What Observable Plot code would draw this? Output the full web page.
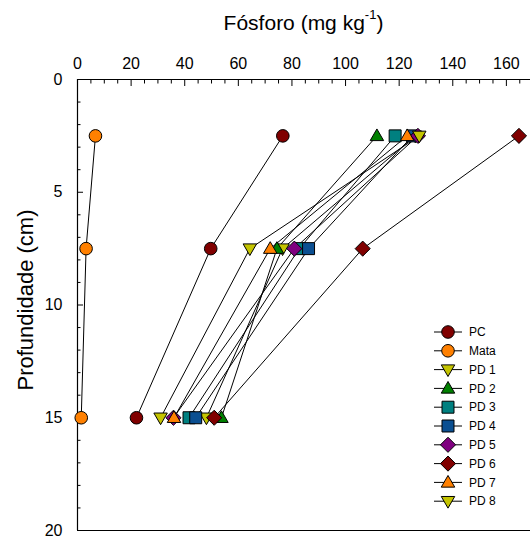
<!DOCTYPE html>
<html>
<head>
<meta charset="utf-8">
<script src="https://cdn.jsdelivr.net/npm/d3@7"></script>
<script src="https://cdn.jsdelivr.net/npm/@observablehq/plot@0.6"></script>
<style>
  body { margin: 0; background: #fff; font-family: "Liberation Sans", Arial, sans-serif; }
  #chart { position: relative; width: 530px; height: 540px; overflow: hidden; }
  #chart svg { position: absolute; left: 0; top: 0; }
</style>
</head>
<body>
<div id="chart"></div>
<script>
// Soil phosphorus (mg/kg) by sampling depth (cm)
const depths = [2.5, 7.5, 15];
const seriesNames = ["PC", "Mata", "PD 1", "PD 2", "PD 3", "PD 4", "PD 5", "PD 6", "PD 7", "PD 8"];
const pc   = [76.6, 49.7, 22.0];
const mata = [6.7, 3.2, 1.4];
const pd1  = [126.0, 76.5, 48.1];
const pd2  = [111.7, 74.4, 53.7];
const pd3  = [118.5, 82.7, 41.6];
const pd4  = [125.0, 86.2, 44.1];
const pd5  = [127.0, 80.9, 35.8];
const pd6  = [164.7, 106.4, 51.0];
const pd7  = [123.0, 71.9, 36.0];
const pd8  = [127.5, 64.3, 31.0];
const seriesValues = [pc, mata, pd1, pd2, pd3, pd4, pd5, pd6, pd7, pd8];

const xTicks = [0, 20, 40, 60, 80, 100, 120, 140, 160];
const xMinor = d3.range(0, 170, 5).filter(v => v % 20 !== 0);
const yTicks = [0, 5, 10, 15, 20];
const yMinor = d3.range(0, 21, 1).filter(v => v % 5 !== 0);
const xDomain = [0, 169];
const yDomain = [0, 20];

const seriesColors = ["#800000", "#ff8000", "#c4c400", "#008000", "#008080",
                      "#0b4f91", "#800080", "#800000", "#ff8000", "#c4c400"];

// marker shapes, scaled from the dot area that Plot passes in
const rOf = size => Math.sqrt(size / Math.PI);
const circle = { draw(c, s) { const r = rOf(s); c.moveTo(r, 0); c.arc(0, 0, r, 0, 2 * Math.PI); } };
const square = { draw(c, s) { const h = rOf(s) * 0.95; c.rect(-h, -h, 2 * h, 2 * h); } };
const diamond = { draw(c, s) { const h = rOf(s) * 1.2; c.moveTo(0, -h); c.lineTo(h, 0); c.lineTo(0, h); c.lineTo(-h, 0); c.closePath(); } };
const triUp = { draw(c, s) { const r = rOf(s); const w = r * 1.07, t = r * 1.1, b = r * 0.75;
  c.moveTo(0, -t); c.lineTo(w, b); c.lineTo(-w, b); c.closePath(); } };
const triDown = { draw(c, s) { const r = rOf(s); const w = r * 1.07, t = r * 1.1, b = r * 0.75;
  c.moveTo(0, t); c.lineTo(w, -b); c.lineTo(-w, -b); c.closePath(); } };
const seriesSymbols = [circle, circle, triDown, triUp, square, square, diamond, diamond, triUp, triDown];

const rows = seriesNames.flatMap((name, k) =>
  depths.map((depth, i) => ({ series: name, depth, p: seriesValues[k][i] })));

const font = "Liberation Sans, Arial, sans-serif";
const markerR = 6.3;

const plot = Plot.plot({
  width: 530,
  height: 540,
  marginTop: 79,
  marginLeft: 77,
  marginRight: 0,
  marginBottom: 10,
  style: { fontFamily: font, fontSize: "16px", color: "#000", background: "transparent" },
  x: { domain: xDomain, axis: null, label: null },
  y: { domain: yDomain, reverse: true, axis: null, label: null },
  color: { domain: seriesNames, range: seriesColors },
  symbol: { domain: seriesNames, range: seriesSymbols },
  marks: [
    Plot.axisX(xTicks, { anchor: "top", tickSize: -6, tickPadding: 17, label: null, fontSize: 16 }),
    Plot.axisX(xMinor, { anchor: "top", tickSize: -3.5, text: null, label: null }),
    Plot.axisY(yTicks, { anchor: "left", tickSize: -6, tickPadding: 21, label: null, fontSize: 16 }),
    Plot.axisY(yMinor, { anchor: "left", tickSize: -3.5, text: null, label: null }),
    Plot.ruleX([xDomain[0]], { stroke: "#000", strokeWidth: 1.2 }),
    Plot.ruleY(yDomain, { stroke: "#000", strokeWidth: 1.2 }),
    Plot.line(rows, { x: "p", y: "depth", z: "series", stroke: "#000", strokeWidth: 1 }),
    Plot.dot(rows, { x: "p", y: "depth", symbol: "series", fill: "series", stroke: "#000", strokeWidth: 1, r: markerR })
  ]
});
document.getElementById("chart").appendChild(plot);

// titles and legend drawn on top of the chart
const overlay = d3.select("#chart").append("svg")
  .attr("width", 530).attr("height", 540)
  .style("pointer-events", "none")
  .attr("font-family", font);

const title = overlay.append("text")
  .attr("x", 303.5).attr("y", 30)
  .attr("text-anchor", "middle").attr("font-size", 21).attr("fill", "#000");
title.append("tspan").text("Fósforo (mg kg");
title.append("tspan").attr("dy", -11).attr("font-size", 13).text("-1");
title.append("tspan").attr("dy", 11).text(")");

overlay.append("text")
  .attr("transform", "translate(33,300) rotate(-90)")
  .attr("text-anchor", "middle").attr("font-size", 22).attr("fill", "#000")
  .text("Profundidade (cm)");

const legend = overlay.append("g").attr("transform", "translate(448,332)");
const area = Math.PI * markerR * markerR;
seriesNames.forEach((name, i) => {
  const g = legend.append("g").attr("transform", `translate(0,${i * 18.8})`);
  g.append("line").attr("x1", -14).attr("x2", 14).attr("stroke", "#000").attr("stroke-width", 1);
  g.append("path")
    .attr("d", d3.symbol(seriesSymbols[i], area)())
    .attr("fill", seriesColors[i]).attr("stroke", "#000").attr("stroke-width", 1);
  g.append("text").attr("x", 21).attr("dy", "0.35em")
    .attr("font-size", 12).attr("fill", "#000").text(name);
});
</script>
</body>
</html>
